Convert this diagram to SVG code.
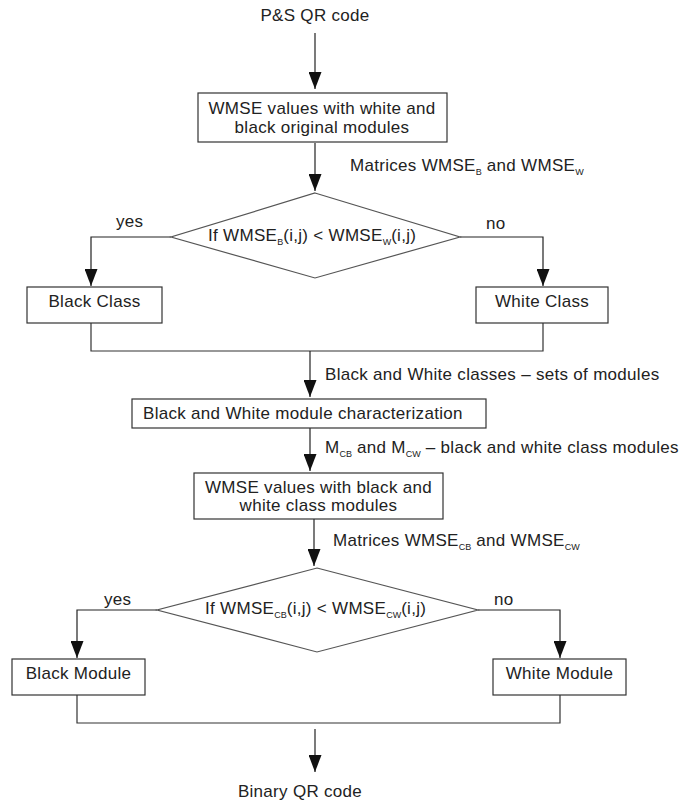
<svg xmlns="http://www.w3.org/2000/svg" width="682" height="803" viewBox="0 0 682 803">
<defs>
<style>
text{font-family:"Liberation Sans",Arial,sans-serif;font-size:17px;letter-spacing:0.3px;fill:#222}
.sub{font-size:9px;letter-spacing:0}
.box{fill:#fff;stroke:#333;stroke-width:1.2}
.dia{fill:#fff;stroke:#555;stroke-width:1.2}
.c{fill:none;stroke:#333;stroke-width:1.2}
.a{fill:none;stroke:#222;stroke-width:1.2;marker-end:url(#ah)}
</style>
<marker id="ah" markerUnits="userSpaceOnUse" markerWidth="18" markerHeight="13" refX="17" refY="6.5" orient="auto">
<path d="M0,0 L17,6.5 L0,13 z" fill="#111"/>
</marker>
</defs>
<rect width="682" height="803" fill="#fff"/>
<g id="connectors">
<path class="a" d="M315,33 V89"/>
<path class="a" d="M315,143 V191"/>
<path class="a" d="M171,237 H91 V286"/>
<path class="a" d="M460,237 H543 V286"/>
<path class="c" d="M91,323 V351 H543 V323"/>
<path class="a" d="M310,351 V397"/>
<path class="a" d="M310,428 V471"/>
<path class="a" d="M314,519 V566"/>
<path class="a" d="M157,610 H77 V658"/>
<path class="a" d="M478,610 H560 V658"/>
<path class="c" d="M77,695 V723 H560 V695"/>
<path class="a" d="M315,729 V772"/>
<text x="350" y="171">Matrices WMSE<tspan class="sub" dy="4">B</tspan><tspan dy="-4"> and WMSE</tspan><tspan class="sub" dy="4">W</tspan></text>
<text x="116" y="227">yes</text>
<text x="486" y="229">no</text>
<text x="325" y="380">Black and White classes – sets of modules</text>
<text x="325" y="453">M<tspan class="sub" dy="4">CB</tspan><tspan dy="-4"> and M</tspan><tspan class="sub" dy="4">CW</tspan><tspan dy="-4"> – black and white class modules</tspan></text>
<text x="333" y="546">Matrices WMSE<tspan class="sub" dy="4">CB</tspan><tspan dy="-4"> and WMSE</tspan><tspan class="sub" dy="4">CW</tspan></text>
<text x="104" y="605">yes</text>
<text x="494" y="605">no</text>
</g>
<g id="start"><text x="315" y="21" text-anchor="middle">P&amp;S QR code</text></g>
<g id="wmse1">
<rect class="box" x="198" y="93" width="249" height="49"/>
<text x="322" y="114" text-anchor="middle">WMSE values with white and</text>
<text x="322" y="133" text-anchor="middle">black original modules</text>
</g>
<g id="decision1">
<polygon class="dia" points="315,193 460,237 315,278 171,237"/>
<text x="208" y="241">If WMSE<tspan class="sub" dy="4">B</tspan><tspan dy="-4">(i,j) &lt; WMSE</tspan><tspan class="sub" dy="4">W</tspan><tspan dy="-4">(i,j)</tspan></text>
</g>
<g id="blackClass">
<rect class="box" x="27" y="287" width="135" height="36"/>
<text x="94.5" y="307" text-anchor="middle">Black Class</text>
</g>
<g id="whiteClass">
<rect class="box" x="476" y="287" width="132" height="36"/>
<text x="542" y="307" text-anchor="middle">White Class</text>
</g>
<g id="characterization">
<rect class="box" x="132" y="399" width="354" height="29"/>
<text x="143" y="419">Black and White module characterization</text>
</g>
<g id="wmse2">
<rect class="box" x="194" y="473" width="249" height="46"/>
<text x="318.5" y="493" text-anchor="middle">WMSE values with black and</text>
<text x="318.5" y="511" text-anchor="middle">white class modules</text>
</g>
<g id="decision2">
<polygon class="dia" points="317,568 478,610 317,652 157,610"/>
<text x="205" y="614">If WMSE<tspan class="sub" dy="4">CB</tspan><tspan dy="-4">(i,j) &lt; WMSE</tspan><tspan class="sub" dy="4">CW</tspan><tspan dy="-4">(i,j)</tspan></text>
</g>
<g id="blackModule">
<rect class="box" x="12" y="659" width="133" height="36"/>
<text x="78.5" y="679" text-anchor="middle">Black Module</text>
</g>
<g id="whiteModule">
<rect class="box" x="493" y="659" width="133" height="36"/>
<text x="559.5" y="679" text-anchor="middle">White Module</text>
</g>
<g id="end"><text x="300" y="797" text-anchor="middle">Binary QR code</text></g>
</svg>
